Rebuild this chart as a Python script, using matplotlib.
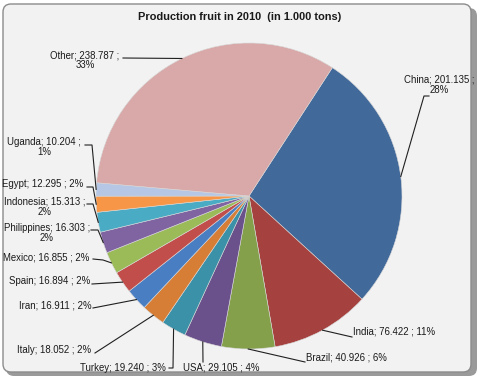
import matplotlib
matplotlib.use('Agg')
import matplotlib.pyplot as plt
from matplotlib.patches import FancyBboxPatch
import numpy as np

plt.rcParams['font.family'] = ['Liberation Sans', 'DejaVu Sans']

# datos (1.000 toneladas)
paises = ['China', 'India', 'Brazil', 'USA', 'Turkey', 'Italy', 'Iran', 'Spain',
          'Mexico', 'Philippines', 'Indonesia', 'Egypt', 'Uganda', 'Other']
valores = [201.135, 76.422, 40.926, 29.105, 19.240, 18.052, 16.911, 16.894,
           16.855, 16.303, 15.313, 12.295, 10.204, 238.787]
etiquetas_valor = ['201.135', '76.422', '40.926', '29.105', '19.240', '18.052', '16.911',
                   '16.894', '16.855', '16.303', '15.313', '12.295', '10.204', '238.787']
porcentajes = ['28%', '11%', '6%', '4%', '3%', '2%', '2%', '2%', '2%', '2%', '2%', '2%', '1%', '33%']

colores = ['#41699a', '#a5423f', '#84a04a', '#6b518b', '#3b91a7', '#d67e35',
           '#4a7ec3', '#c24e4b', '#9bbb59', '#7f64a1', '#4aabc5', '#f79646',
           '#b5c7e4', '#d9a8a8']

# formato de cada etiqueta
texto = [
    '{}; {} ;\n{}', '{}; {} ; {}', '{}; {} ; {}', '{}; {} ; {}',
    '{}; {} ; {}', '{}; {} ; {}', '{}; {} ; {}', '{}; {} ; {}',
    '{}; {} ; {}', '{}; {} ;\n{}', '{}; {} ;\n{}',
    '{}; {} ; {}', '{}; {} ;\n{}', '{}; {} ;\n{}']
# posiciones en pixeles (y hacia abajo)
pos_texto = [(439, 85), (394, 332), (346, 358), (221, 367), (123, 368), (54, 350),
             (55, 306), (50, 281), (46, 257), (47, 233), (45, 207), (43, 184),
             (44, 147), (85, 60)]
# inicio de la linea guia y codo
inicio = [(429, 96), (352, 337), (305, 362), (203, 362), (169, 368), (95, 353),
          (93, 308), (92, 284), (93, 259), (91, 230), (87, 204), (87, 187),
          (85, 145), (123, 58)]
codo = [(424, 96), None, None, None, (173, 368), None, None, None, (103, 260),
        (98, 230), (93, 204), (93, 187), (92, 145), None]

W, H = 480, 378
cx, cy, radio = 249, 196, 153

fig = plt.figure(figsize=(4.8, 3.78), dpi=100)
fig.patch.set_facecolor('white')
ax = fig.add_axes([0, 0, 1, 1])

# marco con sombra
sombra = FancyBboxPatch((6, 2), 471, 368, boxstyle='round,pad=0,rounding_size=8',
                        facecolor='#9a9a9a', edgecolor='none', zorder=0)
marco = FancyBboxPatch((3, 6), 468, 368, boxstyle='round,pad=0,rounding_size=8',
                       facecolor='#f2f2f2', edgecolor='#8c8c8c', linewidth=1.0, zorder=1)
ax.add_patch(sombra)
ax.add_patch(marco)

wedges, _ = ax.pie(valores, colors=colores, startangle=90 - 33, counterclock=False,
                   center=(cx, H - cy), radius=radio, frame=True,
                   wedgeprops=dict(edgecolor='#d8d8d8', linewidth=0.4, zorder=2))

for i, w in enumerate(wedges):
    ang = np.deg2rad((w.theta1 + w.theta2) / 2)
    bx = cx + radio * np.cos(ang)
    by = (H - cy) + radio * np.sin(ang)
    xs = [inicio[i][0]]
    ys = [H - inicio[i][1]]
    if codo[i] is not None:
        xs.append(codo[i][0])
        ys.append(H - codo[i][1])
    xs.append(bx)
    ys.append(by)
    ax.plot(xs, ys, color='#202020', linewidth=0.8, zorder=3)
    ax.text(pos_texto[i][0], H - pos_texto[i][1],
            texto[i].format(paises[i], etiquetas_valor[i], porcentajes[i]),
            ha='center', va='center', fontsize=6.9, color='#1a1a1a',
            linespacing=1.0, zorder=4)

ax.text(240, H - 17, 'Production fruit in 2010  (in 1.000 tons)', ha='center', va='center',
        fontsize=7.9, fontweight='bold', color='#1a1a1a')

ax.set_xlim(0, W)
ax.set_ylim(0, H)
ax.set_aspect('auto')
ax.axis('off')

plt.savefig('out.png', dpi=100)
